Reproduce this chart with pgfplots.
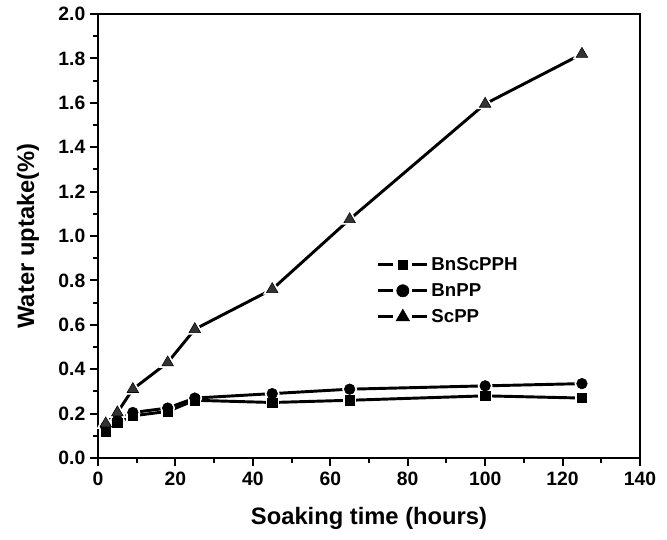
\documentclass[border=0pt]{standalone}
\usepackage{fontspec}
\setmainfont{Liberation Sans}
\usepackage{pgfplots}
\pgfplotsset{compat=1.18}
\pgfplotstableread{
x y
2 0.12
5 0.16
9 0.19
18 0.21
25 0.26
45 0.25
65 0.26
100 0.28
125 0.27
}\sq
\pgfplotstableread{
x y
2 0.14
5 0.17
9 0.205
18 0.225
25 0.27
45 0.29
65 0.31
100 0.325
125 0.335
}\ci
\pgfplotstableread{
x y
2 0.155
5 0.205
9 0.31
18 0.43
25 0.58
45 0.76
65 1.075
100 1.595
125 1.82
}\tr
\newcommand\tlfont{\fontsize{14.5}{16}\selectfont\bfseries}
\begin{document}
\begin{tikzpicture}
\path[use as bounding box] (-73.5pt,-60.75pt) rectangle (426.75pt,343.5pt);
\begin{axis}[
 at={(0pt,0pt)}, anchor=south west,
 scale only axis, width=406.5pt, height=333pt,
 xmin=0, xmax=140, ymin=0, ymax=2,
 xtick={0,20,40,60,80,100,120,140},
 ytick={0,0.2,0.4,0.6,0.8,1.0,1.2,1.4,1.6,1.8,2.0},
 minor x tick num=1, minor y tick num=1,
 tick align=outside, xtick pos=bottom, ytick pos=left,
 major tick length=6pt, minor tick length=3.5pt,
 axis line style={line width=1.4pt},
 every tick/.style={line width=1.4pt, black},
 every tick label/.append style={font=\tlfont},
 xticklabel={\mbox{\tlfont\pgfmathprintnumber[assume math mode=true]{\tick}}},
 yticklabel={\mbox{\tlfont\pgfmathprintnumber[fixed,fixed zerofill,precision=1,assume math mode=true]{\tick}}},
 xticklabel style={yshift=-1pt},
 xlabel={Soaking time (hours)}, ylabel={Water uptake(\%)},
 label style={font=\fontsize{17.8}{20}\selectfont\bfseries},
 xlabel style={at={(axis description cs:0.5,-0.1351)}, anchor=center},
 ylabel style={at={(axis description cs:-0.1292,0.5)}, anchor=center},
 legend style={at={(axis description cs:0.514,0.459)}, anchor=north west, draw=none, fill=none, inner sep=0pt, row sep=4.4pt, font=\fontsize{14}{16}\selectfont\bfseries},
 legend cell align=left,
 legend image code/.code={
   \draw[line width=2.2pt, mark=none] (0pt,0pt) -- (11.25pt,0pt);
   \draw[line width=2.2pt, mark=none] (25.5pt,0pt) -- (36.75pt,0pt);
   \draw[line width=0.4pt] plot coordinates {(18.375pt,0pt)};
 },
]
% lines
\addplot[line width=2.2pt, black, forget plot] table {\sq};
\addplot[line width=2.2pt, black, forget plot] table {\ci};
\addplot[line width=2.2pt, black, forget plot] table {\tr};
% halos
\addplot[only marks, mark=square*, mark size=3.5pt, mark options={draw=white, fill=white, line width=3pt}, forget plot] table {\sq};
\addplot[only marks, mark=*, mark size=4pt, mark options={draw=white, fill=white, line width=3pt}, forget plot] table {\ci};
\addplot[only marks, mark=triangle*, mark size=5pt, mark options={draw=white, fill=white, line width=3pt}, forget plot] table {\tr};
% marks
\addplot[only marks, mark=square*, mark size=3.5pt, mark options={draw=black, fill=black, line width=0.4pt}, forget plot] table {\sq};
\addplot[only marks, mark=*, mark size=4pt, mark options={draw=black, fill=black, line width=0.4pt}, forget plot] table {\ci};
\addplot[only marks, mark=triangle*, mark size=5pt, mark options={draw=black, fill=black!80, line width=0.4pt}, forget plot] table {\tr};
% legend
\addlegendimage{black, mark=square*, mark size=3.4pt, mark options={fill=black}}
\addlegendentry{BnScPPH}
\addlegendimage{black, mark=*, mark size=4.6pt, mark options={fill=black}}
\addlegendentry{BnPP}
\addlegendimage{black, mark=triangle*, mark size=5.8pt, mark options={fill=black}}
\addlegendentry{ScPP}
\end{axis}
\end{tikzpicture}
\end{document}
